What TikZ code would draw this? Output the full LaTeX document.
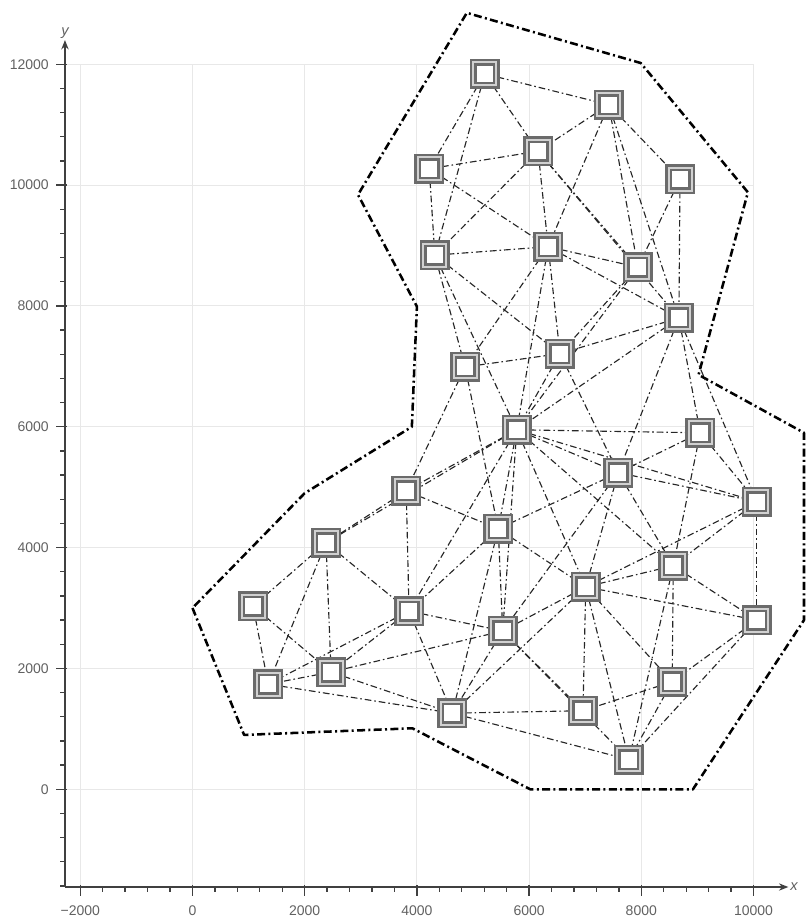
\documentclass[tikz,border=0pt]{standalone}
\usepackage{fontspec}
\setmainfont{Liberation Sans}
\usetikzlibrary{arrows.meta,backgrounds}

\tikzset{
  sensor/.style={rectangle, draw=black!58, line width=1.9pt, double=black!18,
    double distance=1.5pt, fill=white, minimum size=17.25pt, inner sep=0pt},
  link/.style={black!85, line width=0.85pt, dash pattern=on 5pt off 2.2pt on 1.2pt off 2.2pt},
  hull/.style={black, line width=1.9pt, line join=round,
    dash pattern=on 6pt off 2.5pt on 1.5pt off 2.5pt},
  gridline/.style={black!9, line width=0.75pt},
  axis/.style={black!75, line width=1pt},
  ticklabel/.style={text=black!62, font=\fontsize{10.5}{12}\selectfont, inner sep=0pt}
}

\begin{document}
\begin{tikzpicture}[x=42.075pt, y=45.315pt, >={Stealth[length=7pt,width=5.5pt]}]
    \useasboundingbox (-3.431,-2.130) rectangle (10.936,13.063);

    % sensors
    \foreach \n/\x/\y in {1/5.21/11.84, 2/7.42/11.33, 3/4.22/10.27, 4/6.16/10.56,
        5/8.69/10.10, 6/4.32/8.84, 7/6.34/8.98, 8/7.94/8.64, 9/8.67/7.80,
        10/4.86/6.99, 11/6.55/7.21, 12/5.78/5.95, 13/9.05/5.90, 14/7.59/5.24,
        15/3.81/4.94, 16/10.06/4.76, 17/5.45/4.31, 18/2.38/4.08, 19/8.57/3.70,
        20/7.01/3.35, 21/1.08/3.03, 22/3.86/2.95, 23/5.53/2.62, 24/10.06/2.80,
        25/2.47/1.94, 26/1.35/1.74, 27/8.55/1.78, 28/4.63/1.26, 29/6.96/1.30,
        30/7.78/0.49}
        \node[sensor] (s\n) at (\x,\y) {};

    \begin{pgfonlayer}{background}
    % grid
    \foreach \y in {0,2,...,12}
        \draw[gridline] (-2.273,\y) -- (10,\y);
    \foreach \x in {-2,0,...,10}
        \draw[gridline] (\x,-1.617) -- (\x,12);

    % axes
    \draw[axis, ->] (-2.273,-1.617) -- (10.62,-1.617)
        node[right, inner sep=1pt, text=black!62, font=\fontsize{11}{13}\selectfont] {\itshape x};
    \draw[axis, ->] (-2.273,-1.617) -- (-2.273,12.40)
        node[above, inner sep=1pt, text=black!62, font=\fontsize{11}{13}\selectfont] {\itshape y};
    \foreach \i in {-5,...,25}
        \draw[axis] (\i*0.4,-1.617) -- ++(0,-4pt);
    \foreach \i in {-4,...,30}
        \draw[axis] (-2.273,\i*0.4) -- ++(-4pt,0);
    \foreach \x/\l in {-2/−2000, 0/0, 2/2000, 4/4000, 6/6000, 8/8000, 10/10000} {
        \draw[axis] (\x,-1.617) ++(0,1.5pt) -- ++(0,-8.25pt);
        \node[ticklabel, anchor=base, yshift=-21pt] at (\x,-1.617) {\l};
    }
    \foreach \y/\l in {0/0, 2/2000, 4/4000, 6/6000, 8/8000, 10/10000, 12/12000} {
        \draw[axis] (-2.273,\y) ++(1.5pt,0) -- ++(-8.25pt,0);
        \node[ticklabel, anchor=east, xshift=-12pt] at (-2.273,\y) {\l};
    }

    % boundary
    \draw[hull] (0,3) -- (0.92,0.9) -- (3.92,1.01) -- (6.02,0) -- (8.92,0)
        -- (10.9,2.8) -- (10.9,5.9) -- (9.02,6.86) -- (9.9,9.88) -- (7.99,12.02)
        -- (4.89,12.85) -- (2.95,9.84) -- (4.0,7.99) -- (3.91,6.0) -- (2.0,4.9) -- cycle;

    % links
    \foreach \a/\b in {1/2,1/3,1/4,1/6,2/4,2/5,2/7,2/8,2/9,3/4,3/6,3/7,4/6,4/7,4/8,4/9,
        5/8,5/9,6/7,6/10,6/11,6/12,7/8,7/9,7/10,7/11,7/12,8/11,8/12,9/11,9/12,9/13,
        9/14,9/16,10/11,10/15,10/17,11/12,11/14,12/13,12/14,12/15,12/16,12/17,12/18,
        12/19,12/20,12/22,12/23,13/14,13/16,13/19,14/16,14/17,14/19,14/20,14/23,
        15/17,15/18,15/22,16/19,16/20,16/24,17/20,17/22,17/23,17/28,18/21,18/22,
        18/25,18/26,19/20,19/24,19/27,19/30,20/23,20/24,20/27,20/28,20/29,20/30,
        21/25,21/26,22/23,22/25,22/26,22/28,23/25,23/28,23/29,23/30,24/27,24/30,
        25/26,25/28,26/28,27/29,27/30,28/29,28/30}
        \draw[link] (s\a) -- (s\b);
    \end{pgfonlayer}
\end{tikzpicture}
\end{document}
